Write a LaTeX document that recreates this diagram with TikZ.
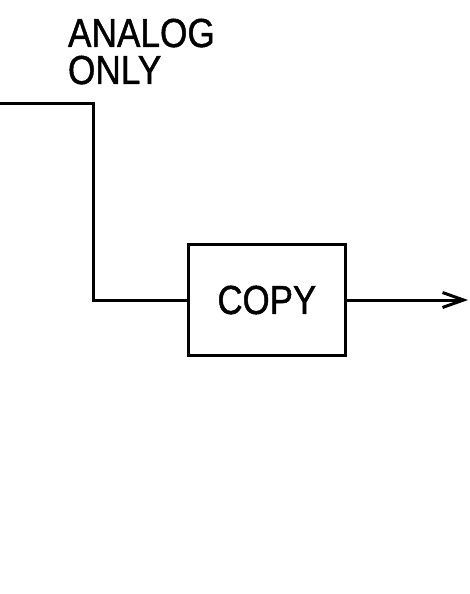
\documentclass[tikz,border=0pt]{standalone}
\usepackage{fontspec}
\setmainfont{Liberation Sans}
\newfontface\gothic{Liberation Sans}[FakeBold=1.2]
\usetikzlibrary{arrows.meta}
\begin{document}
\begin{tikzpicture}[x=1pt,y=-1pt,
  wire/.style={line width=3pt,line join=miter},
  label/.style={inner sep=0pt,outer sep=0pt,anchor=base west,
    font=\gothic\fontsize{40.5}{44}\selectfont},
  blockbox/.style={draw,line width=3pt,minimum width=157pt,minimum height=111.5pt,
    inner sep=0pt,outer sep=0pt,font=\gothic\fontsize{40.5}{44}\selectfont}]
\useasboundingbox (0,0) rectangle (470,594);
\node[label] (t1) at (68,47) {\scalebox{0.87}[1]{ANALOG}};
\node[label] (t2) at (68,84) {\scalebox{0.87}[1]{ONLY}};
\node[blockbox] (copy) at (266.8,300) {\scalebox{0.86}[1]{COPY}};
\coordinate (in) at (0,103);
\coordinate (bend) at (93,103);
\coordinate (out) at (468,300);
\draw[wire] (in) -- (bend) |- (copy.west);
\draw[wire,-{Straight Barb[length=21pt,width=15pt,line width=3pt]}] (copy.east) -- (out);
\end{tikzpicture}
\end{document}
